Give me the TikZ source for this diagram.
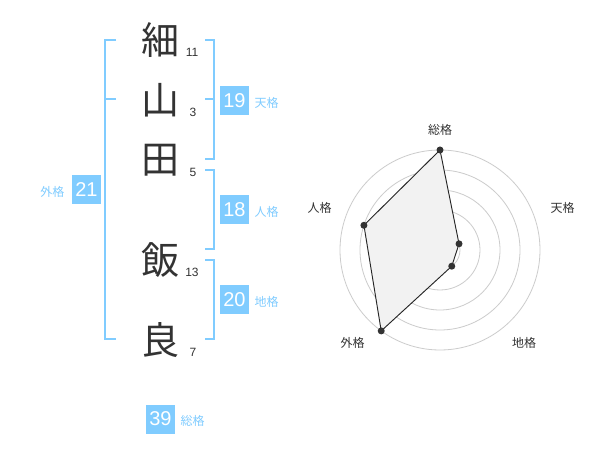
\documentclass[tikz,border=0pt]{standalone}
\usepackage{fontspec}
\setmainfont{Liberation Sans}
\newfontfamily\jp{Noto Sans CJK JP}
\definecolor{boxblue}{HTML}{80CCFF}
\definecolor{lblblue}{HTML}{80CCFF}
\definecolor{ink}{HTML}{333333}
\definecolor{ring}{HTML}{CCCCCC}
\definecolor{polyfill}{HTML}{F2F2F2}
\begin{document}
\begin{tikzpicture}[x=0.75pt,y=-0.75pt,
  kanji/.style={inner sep=0pt,text=ink,font=\jp\fontsize{28.5pt}{30pt}\selectfont},
  strokes/.style={inner sep=0pt,text=ink,font=\fontsize{9pt}{10pt}\selectfont},
  numbox/.style={fill=boxblue,text=white,inner sep=0pt,minimum size=21.75pt,font=\fontsize{15pt}{16pt}\selectfont},
  lbl/.style={inner sep=0pt,text=lblblue,font=\jp\fontsize{9pt}{10pt}\selectfont},
  brk/.style={draw=boxblue,line width=1.5pt},
  ringline/.style={draw=ring,line width=0.6pt},
  poly/.style={draw=black!85,fill=polyfill,line width=0.7pt},
  dot/.style={fill=ink},
  axlbl/.style={inner sep=0pt,text=ink,font=\jp\fontsize{9pt}{10pt}\selectfont}]
\fill[white] (0,0) rectangle (600,470);
\useasboundingbox (0,0) rectangle (600,470);

% kanji
\node[kanji] (k1) at (160,40) {細};
\node[kanji] (k2) at (160,100) {山};
\node[kanji] (k3) at (160,160) {田};
\node[kanji] (k4) at (160,260) {飯};
\node[kanji] (k5) at (160,340) {良};
% stroke counts
\node[strokes] (s1) at (192,52.7) {11};
\node[strokes] (s2) at (193,112.7) {3};
\node[strokes] (s3) at (193,172.7) {5};
\node[strokes] (s4) at (192,272.7) {13};
\node[strokes] (s5) at (193,352.7) {7};

% brackets
\coordinate (L1) at (116,40); \coordinate (L2) at (105,40);
\coordinate (L3) at (105,339); \coordinate (L4) at (116,339);
\coordinate (L5) at (105,99.5); \coordinate (L6) at (116,99.5);
\draw[brk] (L1) -- (L2) -- (L3) -- (L4);
\draw[brk] (L5) -- (L6);

\coordinate (A1) at (205,40); \coordinate (A2) at (214,40);
\coordinate (A3) at (214,159); \coordinate (A4) at (205,159);
\coordinate (A5) at (205,99.5); \coordinate (A6) at (214,99.5);
\draw[brk] (A1) -- (A2) -- (A3) -- (A4);
\draw[brk] (A5) -- (A6);

\coordinate (B1) at (205,170); \coordinate (B2) at (214,170);
\coordinate (B3) at (214,249); \coordinate (B4) at (205,249);
\draw[brk] (B1) -- (B2) -- (B3) -- (B4);

\coordinate (C1) at (205,260); \coordinate (C2) at (214,260);
\coordinate (C3) at (214,339); \coordinate (C4) at (205,339);
\draw[brk] (C1) -- (C2) -- (C3) -- (C4);

% boxes and labels
\node[numbox] (b19) at (234.5,100.5) {19};
\node[lbl,anchor=base west] (t19) at ([xshift=3.75pt]b19.base east) {天格};
\node[numbox] (b18) at (234.5,210) {18};
\node[lbl,anchor=base west] (t18) at ([xshift=3.75pt]b18.base east) {人格};
\node[numbox] (b20) at (234.5,300) {20};
\node[lbl,anchor=base west] (t20) at ([xshift=3.75pt]b20.base east) {地格};
\node[numbox] (b21) at (86.5,190) {21};
\node[lbl,anchor=base east] (t21) at ([xshift=-5.25pt]b21.base west) {外格};
\node[numbox] (b39) at (160.5,419) {39};
\node[lbl,anchor=base west] (t39) at ([xshift=3.75pt]b39.base east) {総格};

% radar chart
\begin{scope}[shift={(440,250)}]
  \foreach \r in {20,40,60,80,100} {\draw[ringline] (0,0) circle[radius=\r];}
  \fill[ring] (0,0) circle[radius=3];
  \coordinate (p1) at (-90:100);
  \coordinate (p2) at (-18:20);
  \coordinate (p3) at (54:20);
  \coordinate (p4) at (126:100);
  \coordinate (p5) at (-162:80);
  \draw[poly] (p1) -- (p2) -- (p3) -- (p4) -- (p5) -- cycle;
  \foreach \p in {p1,p2,p3,p4,p5} {\fill[dot] (\p) circle[radius=3.5];}
\end{scope}
\node[axlbl] (a1) at (440,130) {総格};
\node[axlbl] (a2) at (562.5,208.3) {天格};
\node[axlbl] (a3) at (524,342.7) {地格};
\node[axlbl] (a4) at (352.5,342.7) {外格};
\node[axlbl] (a5) at (319.5,208.3) {人格};
\end{tikzpicture}
\end{document}
